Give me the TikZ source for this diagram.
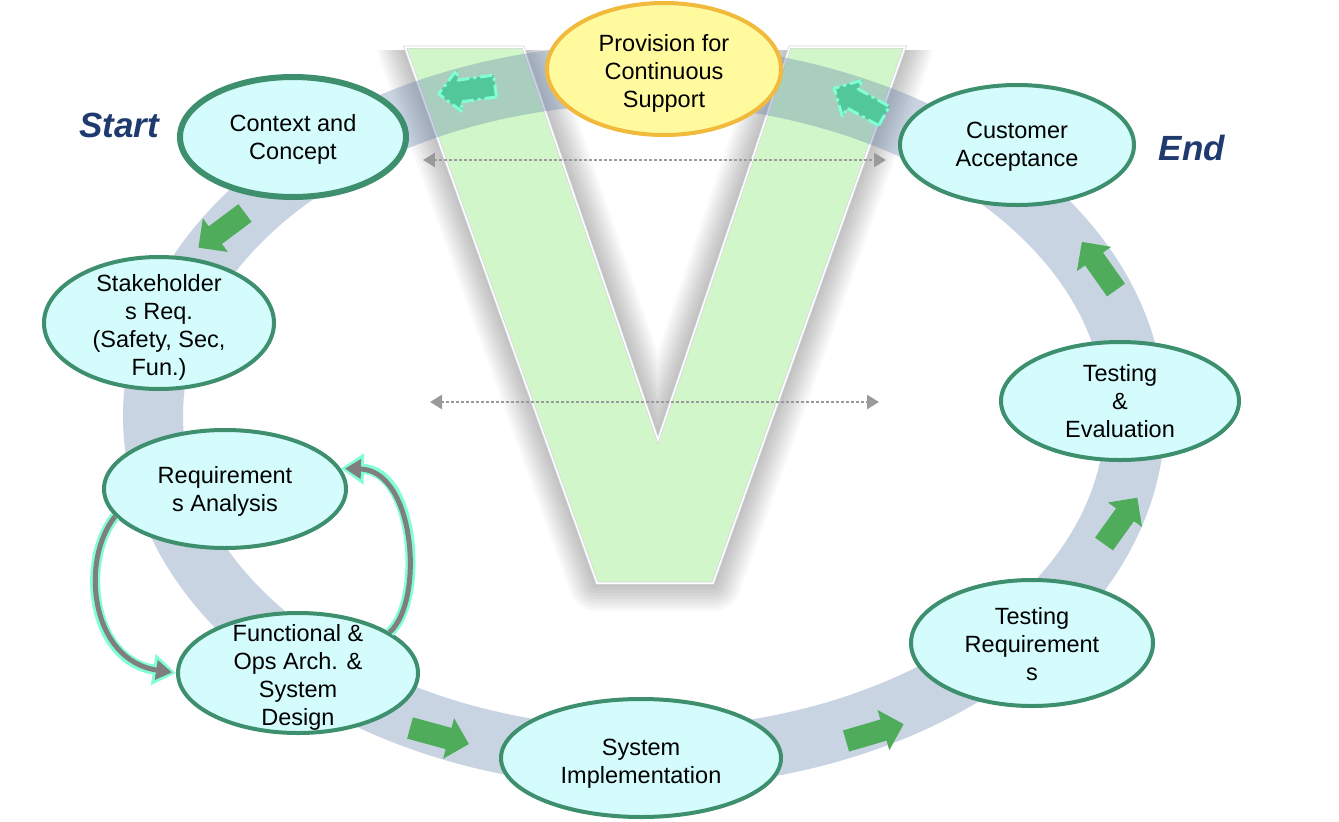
\documentclass[tikz,border=0pt]{standalone}
\usepackage{fontspec}
\setmainfont{Liberation Sans}
\usetikzlibrary{shapes.geometric,arrows.meta}

\definecolor{cyanfill}{HTML}{D4FCFC}
\definecolor{ellborder}{HTML}{3D8F6E}
\definecolor{provfill}{HTML}{FFFA9E}
\definecolor{provborder}{HTML}{F2BA3C}
\definecolor{vgreen}{HTML}{D0F6C9}
\definecolor{vedge}{HTML}{D6D6DE}
\definecolor{bandcol}{HTML}{5A7BA8}
\definecolor{arrowgreen}{HTML}{4EAC5B}
\definecolor{dashfill}{HTML}{52C79A}
\definecolor{mint}{HTML}{7FFFD4}
\definecolor{navy}{HTML}{1F3A6E}
\definecolor{curvegray}{HTML}{7F7F7F}
\definecolor{dotgray}{HTML}{9A9A9A}

\newcommand{\blockarr}[4]{%
  \begin{scope}[shift={#1}, rotate=#2]
    \path[#4] (0,-11) -- ({#3-21},-11) -- ({#3-21},-21) -- (#3,0) -- ({#3-21},21) -- ({#3-21},11) -- (0,11) -- cycle;
  \end{scope}}

\begin{document}
\begin{tikzpicture}[x=1pt,y=-1pt,
  phase/.style={ellipse, draw=ellborder, line width=4pt, fill=cyanfill, inner sep=0pt},
  phasetext/.style={align=center, font=\fontsize{23.5}{28}\selectfont, text=black, inner sep=0pt},
  startend/.style={font=\fontsize{35}{40}\selectfont\bfseries\itshape, text=navy, inner sep=0pt},
  greenarrow/.style={fill=arrowgreen},
  dasharrow/.style={fill=dashfill, draw=mint, line width=3pt, dash pattern=on 12pt off 4pt on 3pt off 4pt, line join=round},
  dotline/.style={draw=dotgray, line width=2.5pt, dash pattern=on 2.5pt off 2.5pt, {Triangle[length=12pt,width=14pt]}-{Triangle[length=12pt,width=14pt]}},
  mintcurve/.style={draw=mint, line width=10pt, -{Triangle[length=23pt,width=30pt]}},
  graycurve/.style={draw=curvegray, line width=5pt, shorten >=4pt, -{Triangle[length=16pt,width=19pt]}},
  vshadow/.style={black, line join=round},
]
\useasboundingbox (0,0) rectangle (1339,822);
\fill[white] (0,0) rectangle (1339,822);

% V shape coordinates
\coordinate (v1) at (405,47);
\coordinate (v2) at (523,47);
\coordinate (v3) at (658,440);
\coordinate (v4) at (790,47);
\coordinate (v5) at (905,47);
\coordinate (v6) at (713,583);
\coordinate (v7) at (597,583);

% V shadow (soft, clipped below the top edge)
\begin{scope}
  \clip (0,50) rectangle (1339,822);
  \foreach \w in {56,50,...,4}{
    \draw[vshadow, line width=\w pt, opacity=0.028, shift={(7,14)}] (v1) -- (v2) -- (v3) -- (v4) -- (v5) -- (v6) -- (v7) -- cycle;
  }
\end{scope}
% V body
\draw[fill=vgreen, draw=vedge, line width=3pt, line join=miter] (v1) -- (v2) -- (v3) -- (v4) -- (v5) -- (v6) -- (v7) -- cycle;
\draw[white, line width=1.5pt, line join=miter] (v1) -- (v2) -- (v3) -- (v4) -- (v5) -- (v6) -- (v7) -- cycle;

% ring band
\draw[bandcol, opacity=0.32, line width=60pt] (644,416) ellipse [x radius=491pt, y radius=342pt];

% dotted double arrows
\coordinate (d1l) at (423,160);
\coordinate (d1r) at (886,160);
\coordinate (d2l) at (430,402);
\coordinate (d2r) at (879,402);
\draw[dotline] (d1l) -- (d1r);
\draw[dotline] (d2l) -- (d2r);

% dashed arrows at the top
\blockarr{(495,86)}{188}{57}{dasharrow}
\blockarr{(884,116)}{150.8}{57}{dasharrow}

% Provision ellipse
\node[ellipse, draw=provborder, line width=4pt, fill=provfill, inner sep=0pt, minimum width=234pt, minimum height=132pt] (pv) at (664,69) {};
\node[phasetext] at (664,73) {Provision for\\Continuous\\Support};

% phase ellipses
\node[phase, line width=6pt, minimum width=226pt, minimum height=120pt] (cc) at (293,137) {};
\node[phase, minimum width=230pt, minimum height=132pt] (sh) at (159,323) {};
\node[phase, minimum width=242pt, minimum height=118pt] (ra) at (225,489) {};
\node[phase, minimum width=240pt, minimum height=120pt] (fo) at (298,673) {};
\node[phase, minimum width=280pt, minimum height=118pt] (si) at (641,758) {};
\node[phase, minimum width=242pt, minimum height=126pt] (tr) at (1032,643) {};
\node[phase, minimum width=238pt, minimum height=118pt] (te) at (1120,401) {};
\node[phase, minimum width=234pt, minimum height=120pt] (ca) at (1017,145) {};

% texts
\node[phasetext] at (293,139) {Context and\\Concept};
\node[phasetext] at (159,327) {Stakeholder\\s Req.\\(Safety, Sec,\\Fun.)};
\node[phasetext] at (225,491) {Requirement\\s Analysis};
\node[phasetext] at (298,677) {Functional \&\\Ops Arch. \&\\System\\Design};
\node[phasetext] at (641,764) {System\\Implementation};
\node[phasetext] at (1032,644) {Testing\\Requirement\\s};
\node[phasetext] at (1120,401) {Testing\\\&\\Evaluation};
\node[phasetext] at (1017,147) {Customer\\Acceptance};

\node[startend] at (119,125) {Start};
\node[startend] at (1192,148) {End};

% green block arrows
\blockarr{(245,213)}{216.7}{58}{greenarrow}
\blockarr{(410,728)}{-15.2}{61}{greenarrow}
\blockarr{(846,741)}{16.3}{60}{greenarrow}
\blockarr{(1104,544)}{54.3}{57}{greenarrow}
\blockarr{(1116,290)}{125.3}{59}{greenarrow}

% curved feedback arrows
\draw[mintcurve] (ra.194) .. controls (80,560) and (90,660) .. (fo.west);
\draw[graycurve] (ra.194) .. controls (80,560) and (90,660) .. (fo.west);
\draw[mintcurve] (fo.24) .. controls (425,600) and (415,470) .. (ra.10);
\draw[graycurve] (fo.24) .. controls (425,600) and (415,470) .. (ra.10);
\end{tikzpicture}
\end{document}
